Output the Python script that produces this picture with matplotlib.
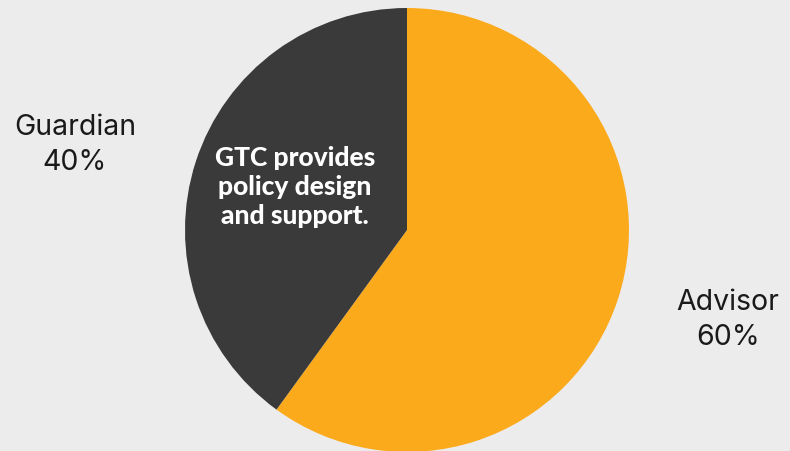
import matplotlib.pyplot as plt

labels = ["Advisor", "Guardian"]
shares = [60, 40]
colors = ["#fbaa1c", "#3a3a3a"]
note = "GTC provides\npolicy design\nand support."

fig = plt.figure(figsize=(7.9, 4.52), dpi=100, facecolor="#ececec")
ax = fig.add_axes([0, 0, 1, 1])
ax.set_facecolor("#ececec")

ax.pie(shares, colors=colors, startangle=90, counterclock=False,
       center=(407, 221), radius=222, frame=True,
       wedgeprops=dict(linewidth=0))
ax.set_xlim(0, 790)
ax.set_ylim(0, 452)
ax.set_aspect("equal")
ax.axis("off")

# outside labels
ax.text(728, 452 - 320, f"{labels[0]}\n{shares[0]}%", ha="center", va="center",
        fontsize=20.5, family="Inter", color="#1a1a1a", linespacing=1.4)
ax.text(75, 452 - 145, f"{labels[1]}\n{shares[1]}%", ha="center", va="center",
        fontsize=20.5, family="Inter", color="#1a1a1a", linespacing=1.4)

ax.text(295, 452 - 187, note, ha="center", va="center", fontsize=19,
        family="Lato", weight="black", color="white", linespacing=1.27)

fig.savefig("out.png", dpi=100, facecolor=fig.get_facecolor())
